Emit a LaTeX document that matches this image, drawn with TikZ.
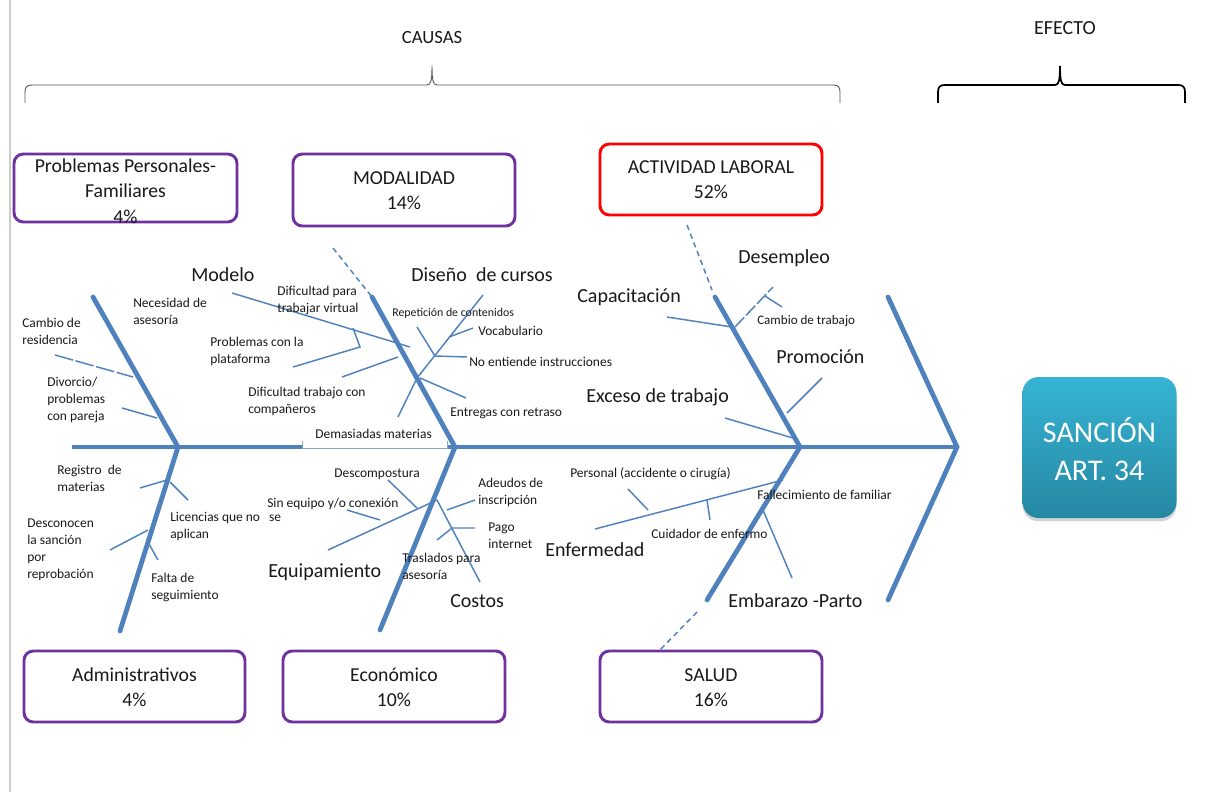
\documentclass[tikz,border=0pt]{standalone}
\usepackage{fontspec}
\setmainfont{Carlito}
\usetikzlibrary{shadows}
\definecolor{fishblue}{RGB}{79,129,189}
\definecolor{boxpurple}{RGB}{112,48,160}
\definecolor{txt}{RGB}{25,25,25}
\definecolor{tealtop}{RGB}{54,180,212}
\definecolor{tealbot}{RGB}{38,136,163}
\tikzset{
 rib/.style={draw=fishblue, line width=3.6pt, line cap=round},
 twig/.style={draw=fishblue, line width=1.1pt},
 guide/.style={draw=fishblue, line width=1.1pt, dash pattern=on 4pt off 3pt},
 catbox/.style={draw=boxpurple, line width=2.2pt, rounded corners=7pt, minimum width=166.5pt, minimum height=53.25pt, inner sep=0pt},
 cattext/.style={align=center, font=\fontsize{14.8}{19}\selectfont, text=txt, inner sep=0pt},
 small/.style={align=left, font=\fontsize{10.1}{12.75}\selectfont, text=txt, inner sep=0pt, anchor=west},
 tiny/.style={align=left, font=\fontsize{8.9}{11}\selectfont, text=txt, inner sep=0pt, anchor=west},
 big/.style={font=\fontsize{15}{18}\selectfont, text=txt, inner sep=0pt, anchor=west},
 head/.style={font=\fontsize{14}{16}\selectfont, text=txt, inner sep=0pt}
}
\begin{document}
\begin{tikzpicture}[x=0.75pt,y=-0.75pt]
\useasboundingbox (0,0) rectangle (1222,792);
% page edge
\draw[gray!40, line width=0.8pt] (10,0) -- (10,792);

% headings and braces
\node[head] (causas) at (432,38) {CAUSAS};
\node[head, font=\fontsize{15}{16}\selectfont] (efecto) at (1065,28) {EFECTO};
\draw[gray!70!black, line width=0.7pt] (25,103) -- (25,92) .. controls (25,87) and (27,85) .. (32,85) -- (427,85)
  .. controls (431,85) and (432,80) .. (432,66) .. controls (432,80) and (433,85) .. (437,85) -- (833,85)
  .. controls (838,85) and (840,87) .. (840,92) -- (840,103);
\draw[black, line width=1.3pt] (938,103) -- (938,92) .. controls (938,87) and (940,85) .. (945,85) -- (1055,85)
  .. controls (1059,85) and (1060,80) .. (1060,66) .. controls (1060,80) and (1061,85) .. (1065,85) -- (1178,85)
  .. controls (1183,85) and (1185,87) .. (1185,92) -- (1185,103);

% category boxes
\node[catbox, minimum width=167.25pt, minimum height=51pt] (bpers) at (125.5,188) {};
\node[cattext] (tpers) at (125.5,191) {Problemas Personales-\\Familiares\\4\%};
\node[catbox, minimum height=54pt] (bmod) at (404,190) {};
\node[cattext] (tmod) at (404,190.5) {MODALIDAD\\14\%};
\node[catbox, draw=red] (blab) at (711,179.5) {};
\node[cattext] (tlab) at (711,180) {ACTIVIDAD LABORAL\\52\%};
\node[catbox, minimum width=165.75pt] (badm) at (134.5,686.5) {};
\node[cattext] (tadm) at (134.5,687.5) {Administrativos\\4\%};
\node[catbox] (beco) at (394,686.5) {};
\node[cattext] (teco) at (394,687.5) {Económico\\10\%};
\node[catbox] (bsal) at (711,686.5) {};
\node[cattext] (tsal) at (711,687.5) {SALUD\\16\%};

% effect box
\node[rounded corners=12pt, top color=tealtop, bottom color=tealbot, draw=none,
      minimum width=115.5pt, minimum height=105.75pt, inner sep=0pt,
      drop shadow={opacity=0.35, shadow xshift=0pt, shadow yshift=-2.5pt}] (efbox) at (1099.5,447.5) {};
\node[align=center, text=white, font=\fontsize{22.5}{28.5}\selectfont, inner sep=0pt] (eftext) at (1099.5,449) {SANCIÓN\\ART. 34};

% coordinates of the skeleton
\coordinate (tail) at (72,447);
\coordinate (tip) at (957,447);
\coordinate (hu) at (888,297);
\coordinate (hl) at (888,600);
\coordinate (aT) at (93,297);   \coordinate (aB) at (178,447);
\coordinate (bT) at (372,297);  \coordinate (bB) at (455,447);
\coordinate (cT) at (715,297);  \coordinate (cB) at (800,447);
\coordinate (dT) at (178,447);  \coordinate (dB) at (120,631);
\coordinate (eT) at (455,447);  \coordinate (eB) at (380,630);
\coordinate (fT) at (800,447);  \coordinate (fB) at (707,600);

% spine
\draw[rib, line cap=butt] (tail) -- (tip);
% Demasiadas materias frame
\fill[white] (302,428) rectangle (447,448.3);
\draw[fishblue!70, line width=0.6pt] (302,441) -- (302,448.6) -- (447,448.6) -- (447,441);
\node[small] (demas) at (315,434) {Demasiadas materias};

% head
\draw[rib, line join=miter] (hu) -- (tip) -- (hl);
% ribs
\draw[rib] (aT) -- (aB);
\draw[rib] (bT) -- (bB);
\draw[rib] (cT) -- (cB);
\draw[rib] (dT) -- (dB);
\draw[rib] (eT) -- (eB);
\draw[rib] (fT) -- (fB);
% dashed extensions
\draw[guide] (333,248) -- (bT);
\draw[guide] (687,225) -- (712,290);
\draw[guide] (697,612) -- (658,652);

% --- Problemas personales
\draw[twig, dash pattern=on 14pt off 2pt] (55,355) -- (133,377);
\draw[twig] (122,408) -- (157,418);
\node[small] (cres) at (22,331) {Cambio de\\residencia};
\node[small] (divo) at (47,400) {Divorcio/\\problemas\\con pareja};
\node[small] (nece) at (133,311) {Necesidad de\\asesoría};

% --- Modalidad
\draw[twig] (232,293) -- (410,347);
\draw[twig] (353,328) -- (360,347) -- (293,367);
\draw[twig] (342,377) -- (398,357);
\draw[twig] (398,417) -- (417,378) -- (483,295);
\draw[twig] (417,327) -- (435,356) -- (467,357);
\draw[twig] (449,337) -- (473,328);
\draw[twig] (420,378) -- (466,398);
\node[big] (modelo) at (191,275) {Modelo};
\node[small] (dvirt) at (277,300) {Dificultad para\\trabajar virtual};
\node[small] (plat) at (210,351) {Problemas con la\\plataforma};
\node[small] (comp) at (248,401) {Dificultad trabajo con\\compañeros};
\node[big] (dise) at (411,275) {Diseño\ \ de cursos};
\node[tiny] (repe) at (392,313) {Repetición de contenidos};
\node[small] (voca) at (478,331) {Vocabulario};
\node[small] (noen) at (469,362) {No entiende instrucciones};
\node[small] (entr) at (450,413) {Entregas con retraso};

% --- Actividad laboral
\draw[twig] (667,317) -- (732,327);
\draw[twig, dash pattern=on 10pt off 2pt] (735,327) -- (773,287);
\draw[twig] (765,296) -- (782,307);
\draw[twig] (787,413) -- (822,378);
\draw[twig] (725,418) -- (793,438);
\node[big] (capa) at (577,297) {Capacitación};
\node[big] (dese) at (738,258) {Desempleo};
\node[tiny, font=\fontsize{9.8}{11}\selectfont] (ctra) at (757,321) {Cambio de trabajo};
\node[big] (prom) at (776,357) {Promoción};
\node[big] (exce) at (586,397) {Exceso de trabajo};

% --- Administrativos
\draw[twig] (140,488) -- (167,480);
\draw[twig] (170,482) -- (188,500);
\draw[twig] (110,550) -- (148,530);
\draw[twig] (149,544) -- (158,560);
\node[small] (regi) at (57,478.5) {Registro\ \ de\\materias};
\node[small] (lice) at (170,526) {Licencias que no\ \ \ se\\aplican};
\node[small] (desc) at (27,550) {Desconocen\\la sanción\\por\\reprobación};
\node[small] (falt) at (151,587) {Falta de\\seguimiento};

% --- Economico
\draw[twig] (388,480) -- (417,508);
\draw[twig] (347,510) -- (380,520);
\draw[twig] (328,550) -- (437,500);
\draw[twig] (437,500) -- (480,582);
\draw[twig] (447,510) -- (475,500);
\draw[twig] (437,540) -- (452,528) -- (475,528);
\node[small] (dcom) at (334,474) {Descompostura};
\node[small] (sine) at (267,504) {Sin equipo y/o conexión};
\node[small] (adeu) at (478,492.5) {Adeudos de\\inscripción};
\node[small] (pago) at (488,536) {Pago\\internet};
\node[small] (tras) at (402,566) {Traslados para\\asesoría};
\node[big] (equi) at (268,572) {Equipamiento};
\node[big] (cost) at (450,601) {Costos};

% --- Salud
\draw[twig] (595,529) -- (783,480);
\draw[twig] (628,489) -- (648,510);
\draw[twig] (707,500) -- (710,520);
\draw[twig] (763,510) -- (792,578);
\node[small] (pers) at (570,474) {Personal (accidente o cirugía)};
\node[small] (cuid) at (651,534) {Cuidador de enfermo};
\node[small] (fall) at (757,495) {Fallecimiento de familiar};
\node[big] (enfe) at (545,550) {Enfermedad};
\node[big] (emba) at (728,601) {Embarazo -Parto};
\end{tikzpicture}
\end{document}
